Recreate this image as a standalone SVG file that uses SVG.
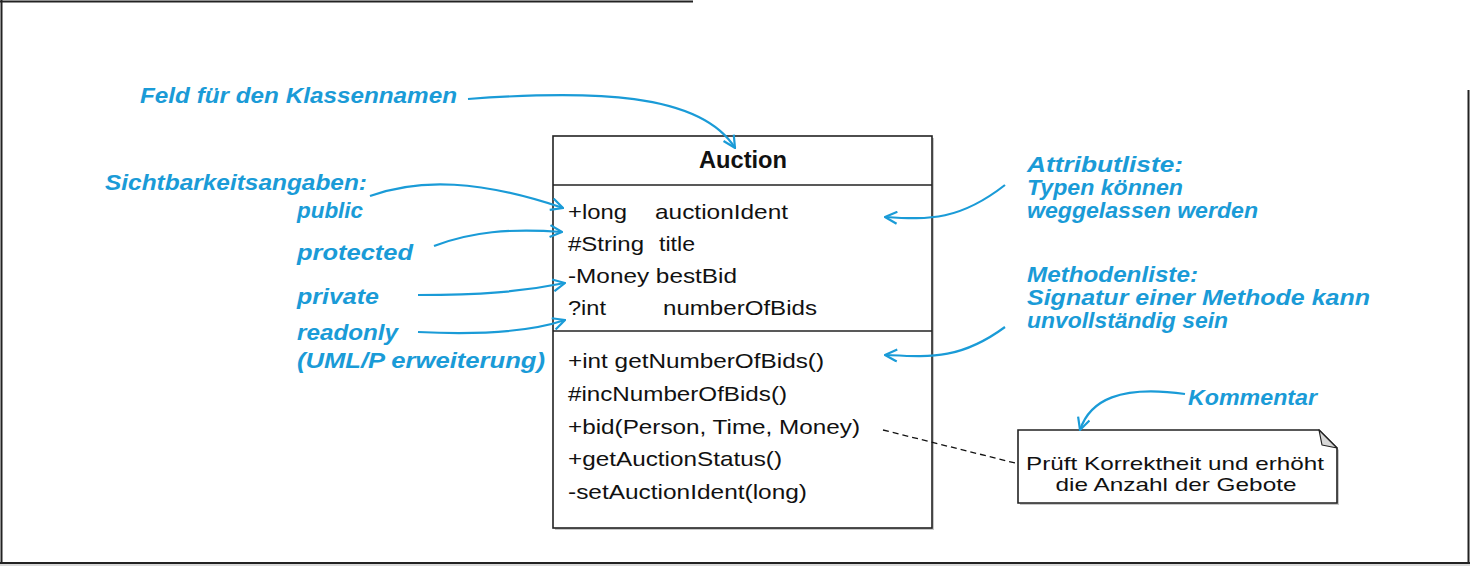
<svg xmlns="http://www.w3.org/2000/svg" width="1470" height="567" viewBox="0 0 1470 567">
<style>
.frame{stroke:#222;stroke-width:2;fill:none}
.box{fill:#fff;stroke:#222;stroke-width:1.6}
.shadow{fill:#c8c8c8;stroke:none}
.uml{font-family:"Liberation Sans",Arial,sans-serif;font-size:21px;fill:#111}
.bold{font-weight:bold;font-size:23px}
.note{font-family:"Liberation Sans",Arial,sans-serif;font-size:19px;fill:#111;text-anchor:middle}
.ann{font-family:"Liberation Sans",Arial,sans-serif;font-size:22px;font-weight:bold;font-style:italic;fill:#1a9bd7}
.arr{fill:none;stroke:#1a9bd7;stroke-width:2.2;marker-end:url(#open)}
.dash{fill:none;stroke:#111;stroke-width:1.3;stroke-dasharray:6 4}
</style>
<defs>
<marker id="open" viewBox="0 0 14 14" refX="13" refY="7" markerWidth="14" markerHeight="14" markerUnits="userSpaceOnUse" orient="auto">
<path d="M1,1 L13,7 L1,13" fill="none" stroke="#1a9bd7" stroke-width="2.2" stroke-linejoin="miter"/>
</marker>
</defs>
<rect x="0" y="0" width="1470" height="567" fill="#fff"/>
<g id="frame">
<path class="frame" d="M0,1.5 H693"/>
<path class="frame" d="M1.5,0 V563"/>
<path class="frame" d="M0,563 H1470"/>
<path d="M0,565 H1470" stroke="#ccc" stroke-width="1.5"/>
<path class="frame" d="M1468.5,90 V563"/>
</g>
<g id="class-auction">
<rect class="shadow" x="555" y="138" width="379" height="392"/>
<rect class="box" x="553" y="136" width="379" height="392"/>
<line x1="553" y1="185" x2="932" y2="185" stroke="#222" stroke-width="1.6"/>
<line x1="553" y1="331" x2="932" y2="331" stroke="#222" stroke-width="1.6"/>
<text class="uml bold" x="743" y="168" text-anchor="middle" textLength="88" lengthAdjust="spacingAndGlyphs">Auction</text>
<text class="uml" x="568" y="219" textLength="59" lengthAdjust="spacingAndGlyphs">+long</text>
<text class="uml" x="655" y="219" textLength="133" lengthAdjust="spacingAndGlyphs">auctionIdent</text>
<text class="uml" x="568" y="251" textLength="76" lengthAdjust="spacingAndGlyphs">#String</text>
<text class="uml" x="659" y="251" textLength="36" lengthAdjust="spacingAndGlyphs">title</text>
<text class="uml" x="568" y="283" textLength="169" lengthAdjust="spacingAndGlyphs">-Money bestBid</text>
<text class="uml" x="568" y="315" textLength="38" lengthAdjust="spacingAndGlyphs">?int</text>
<text class="uml" x="663" y="315" textLength="154" lengthAdjust="spacingAndGlyphs">numberOfBids</text>
<text class="uml" x="568" y="368" textLength="256" lengthAdjust="spacingAndGlyphs">+int getNumberOfBids()</text>
<text class="uml" x="568" y="401" textLength="219" lengthAdjust="spacingAndGlyphs">#incNumberOfBids()</text>
<text class="uml" x="568" y="434" textLength="292" lengthAdjust="spacingAndGlyphs">+bid(Person, Time, Money)</text>
<text class="uml" x="568" y="466" textLength="214" lengthAdjust="spacingAndGlyphs">+getAuctionStatus()</text>
<text class="uml" x="568" y="499" textLength="239" lengthAdjust="spacingAndGlyphs">-setAuctionIdent(long)</text>
</g>
<g id="note-comment">
<path class="shadow" d="M1020,432 H1321 L1339,450 V505 H1020 Z"/>
<path class="box" d="M1018,430 H1319 L1337,448 V503 H1018 Z"/>
<path d="M1319,430 L1322,445 L1337,448 Z" fill="#d8d8d8" stroke="#222" stroke-width="1.2" stroke-linejoin="round"/>
<text class="note" x="1175" y="470" textLength="298" lengthAdjust="spacingAndGlyphs">Prüft Korrektheit und erhöht</text>
<text class="note" x="1176" y="491" textLength="241" lengthAdjust="spacingAndGlyphs">die Anzahl der Gebote</text>
</g>
<g id="annotations">
<text class="ann" x="140" y="103" textLength="317" lengthAdjust="spacingAndGlyphs">Feld für den Klassennamen</text>
<text class="ann" x="105" y="190" textLength="262" lengthAdjust="spacingAndGlyphs">Sichtbarkeitsangaben:</text>
<text class="ann" x="297" y="218" textLength="66" lengthAdjust="spacingAndGlyphs">public</text>
<text class="ann" x="297" y="260" textLength="116" lengthAdjust="spacingAndGlyphs">protected</text>
<text class="ann" x="297" y="304" textLength="82" lengthAdjust="spacingAndGlyphs">private</text>
<text class="ann" x="297" y="340" textLength="101" lengthAdjust="spacingAndGlyphs">readonly</text>
<text class="ann" x="297" y="368" textLength="248" lengthAdjust="spacingAndGlyphs">(UML/P erweiterung)</text>
<text class="ann" x="1027" y="172" textLength="156" lengthAdjust="spacingAndGlyphs">Attributliste:</text>
<text class="ann" x="1027" y="195" textLength="156" lengthAdjust="spacingAndGlyphs">Typen können</text>
<text class="ann" x="1027" y="218" textLength="231" lengthAdjust="spacingAndGlyphs">weggelassen werden</text>
<text class="ann" x="1027" y="282" textLength="171" lengthAdjust="spacingAndGlyphs">Methodenliste:</text>
<text class="ann" x="1027" y="305" textLength="343" lengthAdjust="spacingAndGlyphs">Signatur einer Methode kann</text>
<text class="ann" x="1027" y="328" textLength="201" lengthAdjust="spacingAndGlyphs">unvollständig sein</text>
<text class="ann" x="1188" y="405" textLength="129" lengthAdjust="spacingAndGlyphs">Kommentar</text>
</g>
<g id="connectors">
<path class="arr" d="M468,99 C590,90 700,92 735,148"/>
<path class="arr" d="M370,196 C420,178 480,180 563,208"/>
<path class="arr" d="M434,246 C470,232 510,228 562,232"/>
<path class="arr" d="M418,295 C480,295 520,292 565,283"/>
<path class="arr" d="M418,332 C480,335 530,332 565,320"/>
<path class="arr" d="M1005,185 C960,220 930,220 885,217"/>
<path class="arr" d="M1005,327 C960,360 930,357 885,355"/>
<path class="arr" d="M1185,394 C1120,385 1090,400 1080,430"/>
<path class="dash" d="M883,430 L1015,463"/>
</g>
</svg>
